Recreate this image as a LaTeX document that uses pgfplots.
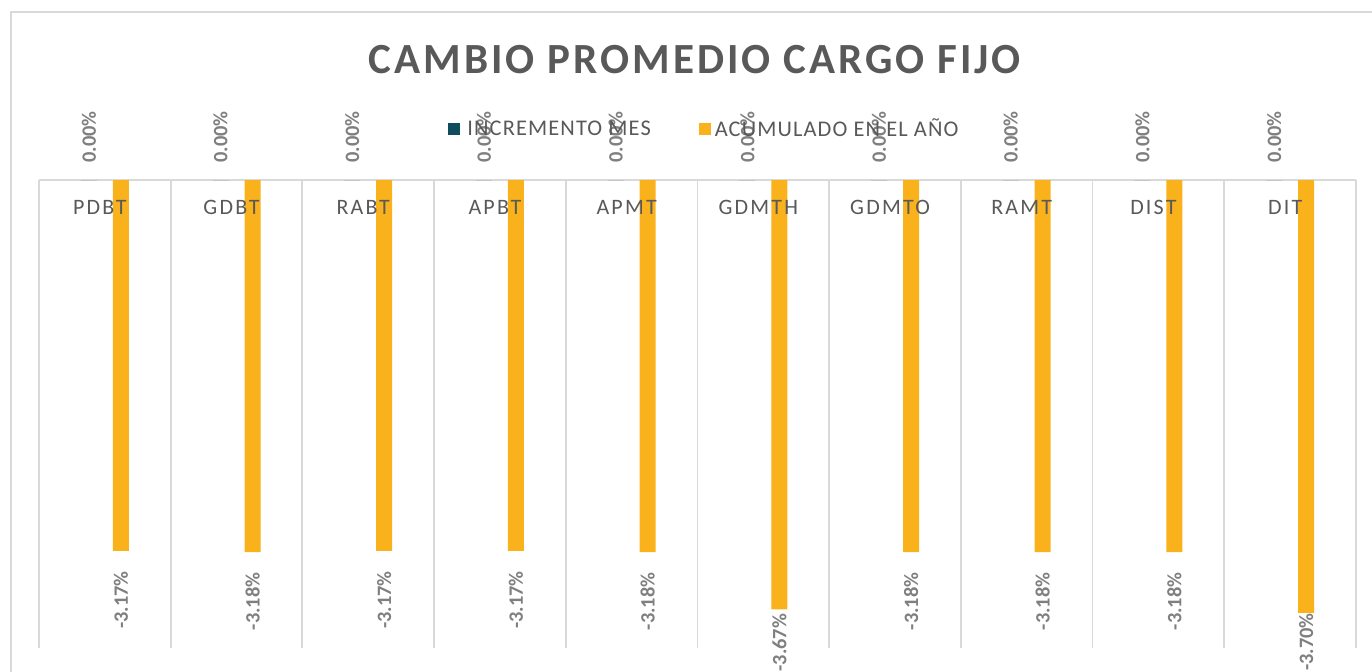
\documentclass[border=0pt]{standalone}
\usepackage{pgfplots}
\pgfplotsset{compat=1.18}
\usepackage{pgfplotstable}
\usepackage{fontspec}
\setmainfont{Carlito}
\definecolor{tealbar}{HTML}{0E4D5E}
\definecolor{orangebar}{HTML}{F9B21B}
\definecolor{txt}{HTML}{595959}
\definecolor{lbl}{HTML}{7F7F7F}
\definecolor{grd}{HTML}{D9D9D9}

% incremento mes
\pgfplotstableread{
x y
0 0
1 0
2 0
3 0
4 0
5 0
6 0
7 0
8 0
9 0
}\mes
% acumulado en el ano, s = label offset (pt)
\pgfplotstableread{
x y s
0 -3.17 -10
1 -3.18 -10
2 -3.17 -10
3 -3.17 -10
4 -3.18 -10
5 -3.67 -2
6 -3.18 -10
7 -3.18 -10
8 -3.18 -10
9 -3.70 0
}\acum

\begin{document}
\begin{tikzpicture}[x=0.5pt,y=0.5pt]
\useasboundingbox (0,0) rectangle (1372,671);
\draw[grd, line width=0.75pt] (11,-20) rectangle (1400,659);
\node[font=\fontsize{21.5}{24}\selectfont\bfseries\addfontfeature{LetterSpace=7}, text=txt] at (695,611) {CAMBIO PROMEDIO CARGO FIJO};
\begin{axis}[at={(19.5pt,11.5pt)}, anchor=south west, scale only axis,
  width=658.5pt, height=234pt,
  ymin=-4, ymax=0, xmin=-0.5, xmax=9.5,
  axis on top,
  axis line style={draw=none}, ytick=\empty,
  xtick={0,...,9},
  xticklabels={PDBT,GDBT,RABT,APBT,APMT,GDMTH,GDMTO,RAMT,DIST,DIT},
  major tick length=0pt, minor tick length=0pt,
  minor xtick={-0.5,0.5,...,9.5}, xminorgrids,
  minor grid style={grd, line width=0.9pt},
  xticklabel style={anchor=north, inner sep=0pt, yshift=224pt, xshift=-2.5pt,
    font=\fontsize{11}{13}\selectfont\addfontfeature{LetterSpace=10}, text=txt},
  ybar=8pt, bar width=8pt, clip=false,
  /pgf/number format/assume math mode=true,
  legend columns=2,
  legend style={at={(0.506,1.108)}, anchor=center, draw=none, fill=none,
    inner sep=0pt, text=txt,
    font=\fontsize{11.2}{13}\selectfont\addfontfeature{LetterSpace=5},
    /tikz/every even column/.append style={column sep=22pt}},
  legend image code/.code={\fill[#1] (0pt,-3pt) rectangle (6pt,3pt);},
]
\draw[grd, line width=0.9pt] (axis cs:-0.5,0) -- (axis cs:9.5,0);
\addplot[fill=tealbar, draw=none, point meta=y,
  nodes near coords={\pgfmathprintnumber[fixed,fixed zerofill,precision=2]{\pgfplotspointmeta}\%},
  every node near coord/.append style={yshift=8.5pt, rotate=90, anchor=west, inner sep=0pt,
    font=\fontsize{10.2}{12}\selectfont\bfseries, text=lbl}]
  table[x=x, y=y] {\mes};
\addlegendentry{\hspace{1.5pt}INCREMENTO MES}
\addplot[fill=orangebar, draw=none, point meta=y,
  visualization depends on={\thisrow{s} \as \lshift},
  nodes near coords={\pgfmathprintnumber[fixed,fixed zerofill,precision=2]{\pgfplotspointmeta}\%},
  every node near coord/.append style={yshift=\lshift pt, rotate=90, anchor=east, inner sep=0pt,
    font=\fontsize{10.2}{12}\selectfont\bfseries, text=lbl}]
  table[x=x, y=y] {\acum};
\addlegendentry{ACUMULADO EN EL AÑO}
\end{axis}
\end{tikzpicture}
\end{document}
